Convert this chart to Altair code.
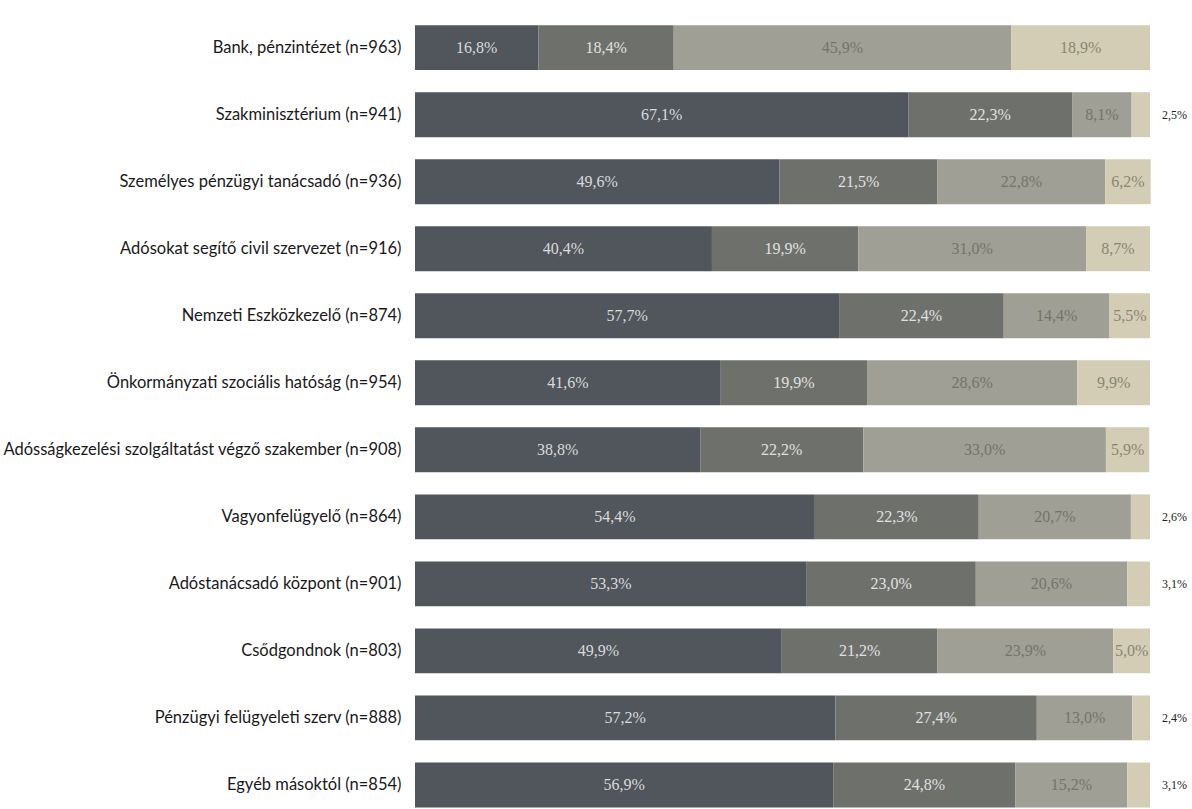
import altair as alt
import pandas as pd

categories = [
    "Bank, pénzintézet (n=963)",
    "Szakminisztérium (n=941)",
    "Személyes pénzügyi tanácsadó (n=936)",
    "Adósokat segítő civil szervezet (n=916)",
    "Nemzeti Eszközkezelő (n=874)",
    "Önkormányzati szociális hatóság (n=954)",
    "Adósságkezelési szolgáltatást végző szakember (n=908)",
    "Vagyonfelügyelő (n=864)",
    "Adóstanácsadó központ (n=901)",
    "Csődgondnok (n=803)",
    "Pénzügyi felügyeleti szerv (n=888)",
    "Egyéb másoktól (n=854)",
]
s1 = [16.8, 67.1, 49.6, 40.4, 57.7, 41.6, 38.8, 54.4, 53.3, 49.9, 57.2, 56.9]
s2 = [18.4, 22.3, 21.5, 19.9, 22.4, 19.9, 22.2, 22.3, 23.0, 21.2, 27.4, 24.8]
s3 = [45.9, 8.1, 22.8, 31.0, 14.4, 28.6, 33.0, 20.7, 20.6, 23.9, 13.0, 15.2]
s4 = [18.9, 2.5, 6.2, 8.7, 5.5, 9.9, 5.9, 2.6, 3.1, 5.0, 2.4, 3.1]
series_names = ["1", "2", "3", "4"]
colors = ["#50565c", "#6e706c", "#a09f95", "#d3cdb5"]
label_colors = ["#dadada", "#e0e0e0", "#74746a", "#8a8572"]

rows = []
for i, cat in enumerate(categories):
    for k, vals in enumerate([s1, s2, s3, s4]):
        v = vals[i]
        lab = f"{v:.1f}".replace(".", ",") + "%"
        inside = not (k == 3 and v < 4)
        rows.append({
            "cat": cat,
            "series": series_names[k],
            "order": k,
            "value": v,
            "label_in": lab if inside else "",
            "label_out": "" if inside else lab,
        })
df = pd.DataFrame(rows)

yscale = alt.Scale(domain=categories, paddingInner=0.33, paddingOuter=0.2, align=0.94)
xscale = alt.Scale(domain=[0, 100], nice=False, zero=True)

base = alt.Chart(df).transform_stack(
    stack="value", as_=["x0", "x1"], groupby=["cat"], sort=[alt.SortField("order")]
).transform_calculate(mid="(datum.x0 + datum.x1) / 2")

yenc = alt.Y("cat:N", sort=categories, scale=yscale, title=None,
             axis=alt.Axis(ticks=False, domain=False, labelPadding=14,
                           labelFont="Lato", labelFontSize=16.5, labelColor="#1a1a1a",
                           labelLimit=600))

bars = base.mark_bar().encode(
    x=alt.X("x0:Q", scale=xscale, axis=None),
    x2="x1:Q",
    y=yenc,
    color=alt.Color("series:N", scale=alt.Scale(domain=series_names, range=colors), legend=None),
)

text_in = base.mark_text(font="Liberation Serif", fontSize=16).encode(
    x=alt.X("mid:Q", scale=xscale, axis=None),
    y=alt.Y("cat:N", sort=categories, scale=yscale),
    text="label_in:N",
    color=alt.Color("series:N", scale=alt.Scale(domain=series_names, range=label_colors), legend=None),
)

text_out = base.mark_text(font="Liberation Serif", fontSize=12, align="left", dx=12, color="#222222").encode(
    x=alt.X("x1:Q", scale=xscale, axis=None),
    y=alt.Y("cat:N", sort=categories, scale=yscale),
    text="label_out:N",
)

chart = alt.layer(bars, text_in, text_out).resolve_scale(color="independent").properties(
    width=735,
    height=809,
    padding={"left": 415, "right": 42, "top": 0, "bottom": 0},
    autosize=alt.AutoSizeParams(type="none"),
    background="white",
).configure_view(stroke=None)

chart.save("out.html", embed_options={"renderer": "svg", "actions": False})
